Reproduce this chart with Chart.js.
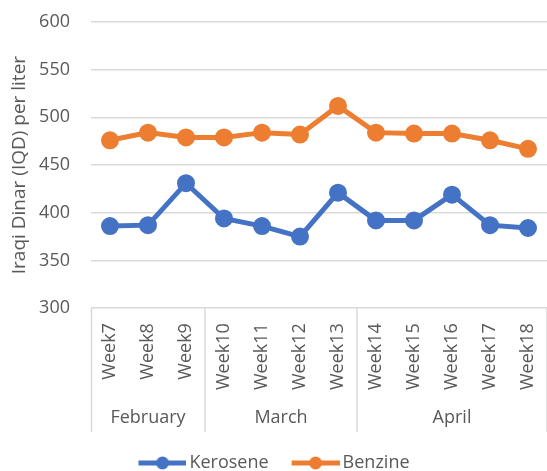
<!DOCTYPE html>
<html lang="en">
<head>
    <meta charset="UTF-8">
    <script src="https://cdn.jsdelivr.net/npm/chart.js"></script>
    <title>Kerosene and Benzine prices</title>
    <style>
        body { margin: 0; background: #fff; }
        #wrap { width: 547px; height: 471px; }
    </style>
</head>
<body>
    <div id="wrap">
      <canvas id="myChart"></canvas>
    </div>
    <script>
        // weekly prices, IQD per liter
        const weeks = ['Week7', 'Week8', 'Week9', 'Week10', 'Week11', 'Week12', 'Week13', 'Week14', 'Week15', 'Week16', 'Week17', 'Week18'];
        const kerosene = [386, 387, 431, 394, 386, 375, 421, 392, 392, 419, 387, 384];
        const benzine = [476, 484, 479, 479, 484, 482, 512, 484, 483, 483, 476, 467];
        const months = ['February', 'March', 'April'];
        const weeksPerMonth = [3, 4, 5];
        const yTicks = [300, 350, 400, 450, 500, 550, 600];

        const grey = '#595959';
        const lineGrey = '#d9d9d9';
        const fontName = "'Open Sans', sans-serif";
        const monthRow = 27;

        // line with a dot in the middle, used as legend marker
        function legendIcon(color) {
            const c = document.createElement('canvas');
            c.width = 55; c.height = 14;
            const g = c.getContext('2d');
            g.strokeStyle = color;
            g.lineWidth = 5;
            g.beginPath(); g.moveTo(7, 7); g.lineTo(55, 7); g.stroke();
            g.fillStyle = color;
            g.beginPath(); g.arc(31, 7, 6.5, 0, Math.PI * 2); g.fill();
            return c;
        }

        const monthGroups = {
            id: 'monthGroups',
            afterDraw(chart) {
                const x = chart.scales.x;
                const ctx = chart.ctx;
                const half = (x.getPixelForValue(1) - x.getPixelForValue(0)) / 2;
                const top = chart.chartArea.bottom;
                ctx.save();
                ctx.strokeStyle = lineGrey;
                ctx.lineWidth = 1.5;
                ctx.fillStyle = grey;
                ctx.font = '18px ' + fontName;
                ctx.textAlign = 'center';
                ctx.textBaseline = 'middle';
                ctx.beginPath();
                let start = 0;
                months.forEach((m, i) => {
                    const end = start + weeksPerMonth[i] - 1;
                    const x0 = x.getPixelForValue(start) - half;
                    const x1 = x.getPixelForValue(end) + half;
                    if (i === 0) {
                        ctx.moveTo(x0 + 0.5, top);
                        ctx.lineTo(x0 + 0.5, x.bottom);
                    }
                    ctx.moveTo(x1, top);
                    ctx.lineTo(x1, x.bottom);
                    ctx.fillText(m, (x0 + x1) / 2, x.bottom - 14);
                    start = end + 1;
                });
                ctx.stroke();
                ctx.restore();
            }
        };

        const ctx = document.getElementById('myChart');
        new Chart(ctx, {
            type: 'line',
            data: {
                labels: weeks,
                datasets: [{
                    label: 'Kerosene',
                    data: kerosene,
                    borderColor: '#4472C4',
                    backgroundColor: '#4472C4',
                    borderWidth: 5,
                    pointRadius: 6.5,
                    pointHoverRadius: 6.5,
                    tension: 0
                }, {
                    label: 'Benzine',
                    data: benzine,
                    borderColor: '#ED7D31',
                    backgroundColor: '#ED7D31',
                    borderWidth: 5,
                    pointRadius: 6.5,
                    pointHoverRadius: 6.5,
                    tension: 0
                }]
            },
            options: {
                responsive: true,
                maintainAspectRatio: false,
                animation: false,
                layout: { autoPadding: false, padding: { top: 22, right: 0, left: 0, bottom: -11 } },
                plugins: {
                    tooltip: { enabled: false },
                    legend: {
                        position: 'bottom',
                        labels: {
                            color: grey,
                            font: { family: fontName, size: 18 },
                            usePointStyle: true,
                            pointStyleWidth: 43,
                            padding: 22,
                            generateLabels(chart) {
                                return chart.data.datasets.map((d, i) => ({
                                    text: d.label,
                                    fontColor: grey,
                                    pointStyle: legendIcon(d.borderColor),
                                    datasetIndex: i,
                                    hidden: false,
                                    lineWidth: 0
                                }));
                            }
                        }
                    }
                },
                scales: {
                    x: {
                        offset: true,
                        grid: { display: false, drawTicks: false },
                        border: { display: false },
                        ticks: {
                            color: grey,
                            font: { family: fontName, size: 18 },
                            minRotation: 90,
                            maxRotation: 90,
                            autoSkip: false,
                            padding: 15
                        },
                        afterFit(scale) {
                            scale.height += monthRow;
                            scale.paddingLeft = 0;
                            scale.paddingRight = 0;
                        }
                    },
                    y: {
                        min: 300,
                        max: 600,
                        afterBuildTicks(scale) { scale.ticks = yTicks.map(v => ({ value: v })); },
                        afterFit(scale) {
                            scale.width = 91;
                            scale.paddingTop = 0;
                            scale.paddingBottom = 0;
                        },
                        grid: { color: lineGrey, lineWidth: 1.5, drawTicks: false },
                        border: { display: false },
                        ticks: {
                            color: grey,
                            font: { family: fontName, size: 18 },
                            padding: 21
                        },
                        title: {
                            display: true,
                            text: 'Iraqi Dinar (IQD) per liter',
                            color: grey,
                            font: { family: fontName, size: 19 },
                            padding: { top: 8, bottom: 8 }
                        }
                    }
                }
            },
            plugins: [monthGroups]
        });
    </script>
 </body>
</html>
